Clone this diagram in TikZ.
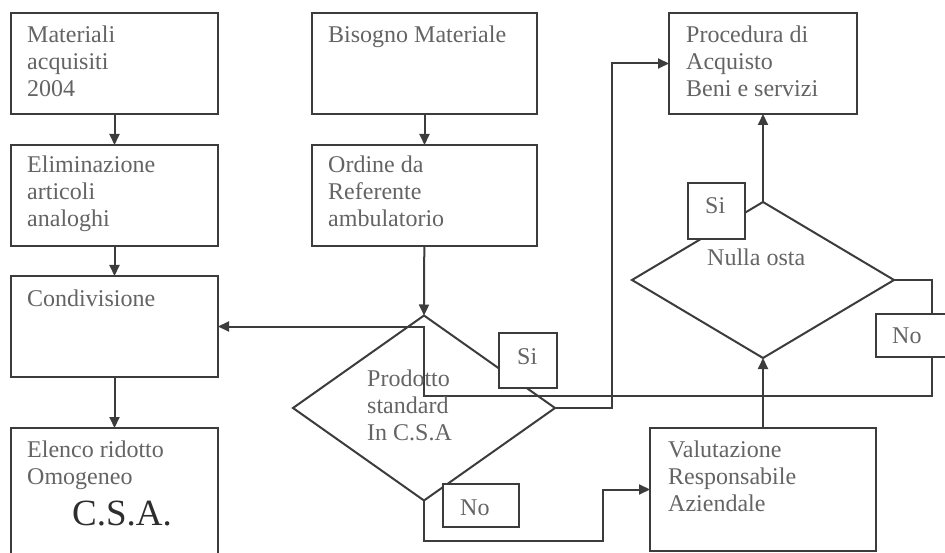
\documentclass[tikz,border=0pt]{standalone}
\usepackage{fontspec}
\setmainfont{Liberation Serif}
\usetikzlibrary{shapes.geometric,arrows.meta}
\definecolor{linec}{RGB}{60,60,60}
\definecolor{txtc}{RGB}{100,100,100}
\definecolor{bigc}{RGB}{45,45,45}
\begin{document}
\begin{tikzpicture}[x=1pt,y=-1pt,
  line/.style={draw=linec, line width=2pt},
  box/.style={line, fill=white, rectangle, inner sep=0pt, outer sep=0pt},
  dia/.style={line, diamond, inner sep=0pt, outer sep=0pt},
  % multi-line labels are placed by the baseline of their last line
  lbl/.style={text=txtc, anchor=base west, inner sep=0pt, align=left,
    font=\fontsize{24}{27}\selectfont},
  arr/.style={line, -{Triangle[length=11pt,width=10pt]}}]
\useasboundingbox (0,0) rectangle (945,553);

% process boxes
\node[box, minimum width=207, minimum height=101] (mat) at (114.5,63.5) {};
\node[box, minimum width=207, minimum height=101] (elim) at (114.5,195.5) {};
\node[box, minimum width=207, minimum height=101] (cond) at (114.5,326.5) {};
\node[box, minimum width=207, minimum height=128] (elenco) at (114.5,492) {};
\node[box, minimum width=225, minimum height=101] (biso) at (424.5,63.5) {};
\node[box, minimum width=225, minimum height=101] (ordine) at (424.5,195.5) {};
\node[box, minimum width=188, minimum height=101] (proc) at (763,63.5) {};
\node[box, minimum width=226, minimum height=123] (valut) at (763,489.5) {};

% decisions
\node[dia, minimum width=262, minimum height=185] (prod) at (424,408) {};
\node[dia, minimum width=262, minimum height=156] (nulla) at (763,280) {};

% bend points of the routed connectors
\coordinate (siup) at (612,63.5);
\coordinate (nr1) at (932,280);
\coordinate (nr2) at (932,396);
\coordinate (nr3) at (424,396);
\coordinate (nb1) at (424,541);
\coordinate (nb2) at (603,541);

% connectors
\draw[arr] (mat) -- (elim);
\draw[arr] (elim) -- (cond);
\draw[arr] (cond) -- (elenco);
\draw[arr] (biso) -- (ordine);
\draw[arr] (ordine) -- (prod.north);
\draw[arr] (valut) -- (nulla.south);
\draw[arr] (nulla.north) -- (proc);
\draw[arr] (prod.east) -| (siup) -- (proc.west);
\draw[arr] (nulla.east) -- (nr1) -- (nr2) -- (nr3) |- (cond.east);
\draw[arr] (prod.south) -- (nb1) -- (nb2) |- (valut.west);

% answer tags
\node[box, minimum width=58, minimum height=55] (si1) at (528,360.5) {};
\node[box, minimum width=76, minimum height=43] (no1) at (481,505.5) {};
\node[box, minimum width=57, minimum height=56] (si2) at (716.5,211) {};
\node[box, minimum width=84, minimum height=43] (no2) at (918,335.5) {};

% texts
\node[lbl] (matT) at (27,97) {Materiali\\acquisiti\\2004};
\node[lbl] (elimT) at (27,227) {Eliminazione\\articoli\\analoghi};
\node[lbl] (condT) at (27,307) {Condivisione};
\node[lbl] (elencoT) at (27,484) {Elenco ridotto\\Omogeneo};
\node[text=bigc, anchor=base west, inner sep=0pt, font=\fontsize{37}{40}\selectfont] (csaT) at (72,525) {C.S.A.};
\node[lbl] (bisoT) at (328,43) {Bisogno Materiale};
\node[lbl] (ordineT) at (328,227) {Ordine da\\Referente\\ambulatorio};
\node[lbl] (procT) at (686,97) {Procedura di\\Acquisto\\Beni e servizi};
\node[lbl] (valutT) at (668,511) {Valutazione\\Responsabile\\Aziendale};
\node[lbl] (prodT) at (367,440) {Prodotto\\standard\\In C.S.A};
\node[lbl] (nullaT) at (707,266) {Nulla osta};
\node[lbl] (si1T) at (517,364) {Si};
\node[lbl] (no1T) at (460,515) {No};
\node[lbl] (si2T) at (705,214) {Si};
\node[lbl] (no2T) at (892,343) {No};
\end{tikzpicture}
\end{document}
